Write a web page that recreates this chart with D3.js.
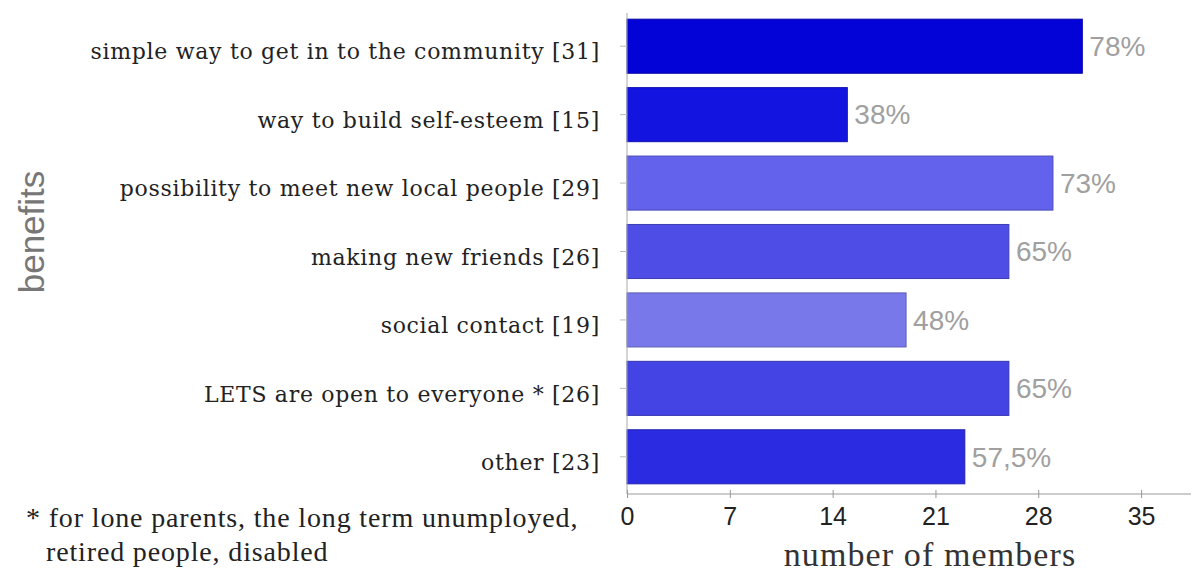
<!DOCTYPE html>
<html>
<head>
<meta charset="utf-8">
<script src="https://cdn.jsdelivr.net/npm/d3@7"></script>
<style>
  html, body { margin: 0; padding: 0; background: #fff; }
  svg { display: block; }
</style>
</head>
<body>
<svg id="chart" width="1196" height="576"></svg>
<script>
// Benefits named by LETS members (count of members, share of respondents)
const categories = [
  "simple way to get in to the community",
  "way to build self-esteem",
  "possibility to meet new local people",
  "making new friends",
  "social contact",
  "LETS are open to everyone *",
  "other"
];
const counts = [31, 15, 29, 26, 19, 26, 23];
const shares = ["78%", "38%", "73%", "65%", "48%", "65%", "57,5%"];
const barColors = ["#0303d8", "#1414e0", "#6262ec", "#4e4ee6", "#7878ea", "#4444e4", "#2b2be2"];
const xTicks = [0, 7, 14, 21, 28, 35];
const footnote = [
  "* for lone parents, the long term unumployed,",
  "retired people, disabled"
];

const rows = categories.map((c, i) => ({
  label: `${c} [${counts[i]}]`, key: c, value: counts[i], share: shares[i], color: barColors[i]
}));

const svg = d3.select("#chart");

const x = d3.scaleLinear().domain([0, 38.4]).range([627, 1191]);
const y = d3.scaleBand().domain(categories).range([12, 491])
  .paddingInner(0.21).paddingOuter(0.105);
const axisY = 494;

// bars
svg.append("g").selectAll("rect").data(rows).join("rect")
  .attr("x", x(0))
  .attr("y", d => y(d.key))
  .attr("width", d => x(d.value) - x(0))
  .attr("height", y.bandwidth())
  .attr("fill", d => d.color)
  .attr("stroke", d => d3.color(d.color).darker(0.7))
  .attr("stroke-width", 1);

// value labels
svg.append("g").selectAll("text").data(rows).join("text")
  .attr("x", d => x(d.value) + 7)
  .attr("y", d => y(d.key) + y.bandwidth() / 2)
  .attr("dy", "0.35em")
  .attr("font-family", "Liberation Sans, Arial, sans-serif")
  .attr("font-size", 28)
  .attr("fill", "#a0a0a0")
  .text(d => d.share);

// category axis
const yAxis = svg.append("g")
  .attr("transform", `translate(${x(0)},0)`)
  .call(d3.axisLeft(y).tickSize(7).tickPadding(20).tickFormat((d, i) => rows[i].label));
yAxis.select(".domain").attr("d", `M0,13V${axisY}`).attr("stroke", "#aaa");
yAxis.selectAll(".tick line").attr("stroke", "#bbb");
yAxis.selectAll(".tick text")
  .attr("font-family", "DejaVu Serif, serif")
  .attr("font-size", 22)
  .attr("letter-spacing", 0.7)
  .attr("fill", "#222")
  .attr("dy", "0.6em");

// value axis
const xAxis = svg.append("g")
  .attr("transform", `translate(0,${axisY})`)
  .call(d3.axisBottom(x).tickValues(xTicks).tickSize(4).tickPadding(9).tickFormat(d3.format("d")));
xAxis.select(".domain").attr("d", `M${x(0)},0H${x.range()[1]}`).attr("stroke", "#999");
xAxis.selectAll(".tick line").attr("y1", -4).attr("stroke", "#999");
xAxis.selectAll(".tick text")
  .attr("font-family", "Liberation Sans, Arial, sans-serif")
  .attr("font-size", 25)
  .attr("fill", "#222");

// axis titles
svg.append("text")
  .attr("x", 930).attr("y", 566)
  .attr("text-anchor", "middle")
  .attr("font-family", "Liberation Serif, serif")
  .attr("font-size", 34)
  .attr("letter-spacing", 1.1)
  .attr("fill", "#333")
  .text("number of members");

svg.append("text")
  .attr("transform", "translate(44,232) rotate(-90)")
  .attr("text-anchor", "middle")
  .attr("font-family", "Liberation Sans, Arial, sans-serif")
  .attr("font-size", 35)
  .attr("fill", "#777")
  .text("benefits");

// footnote
svg.append("g").selectAll("text").data(footnote).join("text")
  .attr("x", (d, i) => i === 0 ? 26 : 46)
  .attr("y", (d, i) => 527 + i * 34)
  .attr("font-family", "Liberation Serif, serif")
  .attr("font-size", 28)
  .attr("letter-spacing", 0.85)
  .attr("fill", "#222")
  .text(d => d);
</script>
</body>
</html>
